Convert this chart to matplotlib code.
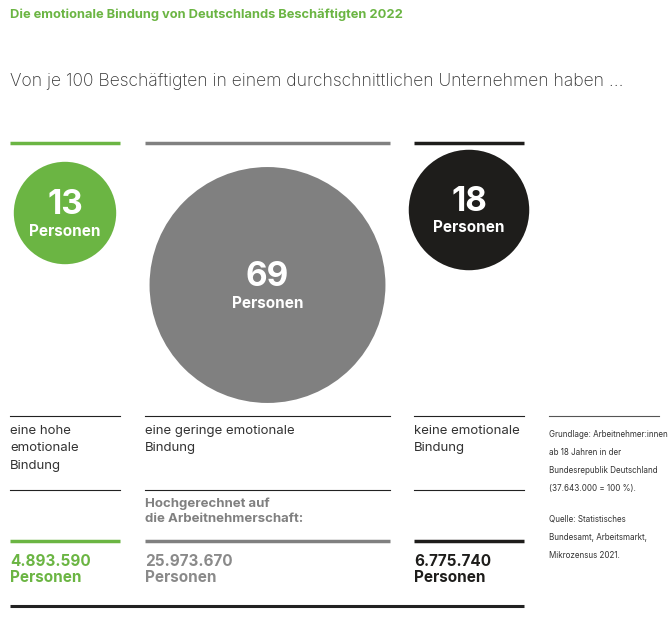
import matplotlib
matplotlib.use("Agg")
import matplotlib.pyplot as plt
from matplotlib.patches import Circle

counts = [13, 69, 18]
labels = ["eine hohe\nemotionale\nBindung", "eine geringe emotionale\nBindung", "keine emotionale\nBindung"]
totals = ["4.893.590", "25.973.670", "6.775.740"]
colors = ["#6bb543", "#808080", "#1e1d1b"]
total_colors = ["#6bb543", "#8a8a8a", "#1e1d1b"]

cols = [(10, 120), (145, 390), (414, 524)]
centers_y = [213, 285, 210]

fig = plt.figure(figsize=(6.69, 6.19), dpi=100)
ax = fig.add_axes([0, 0, 1, 1])
ax.set_xlim(0, 669); ax.set_ylim(619, 0); ax.axis("off")
F = "Inter"

ax.text(10, 15, "Die emotionale Bindung von Deutschlands Beschäftigten 2022", color="#6bb543",
        fontsize=9.3, fontweight="bold", family=F, va="center")
ax.text(10, 81, "Von je 100 Beschäftigten in einem durchschnittlichen Unternehmen haben …",
        color="#333333", fontsize=12.6, family=F, va="center", fontweight="light")

for i, (x0, x1) in enumerate(cols):
    cx = (x0 + x1) / 2
    r = 14.2 * counts[i] ** 0.5
    ax.plot([x0, x1], [143, 143], color=colors[i], lw=2.5, solid_capstyle="butt")
    ax.add_patch(Circle((cx, centers_y[i]), r, color=colors[i], lw=0))
    ax.text(cx, centers_y[i] - 8, str(counts[i]), color="white", fontsize=24, fontweight="bold",
            family=F, ha="center", va="center")
    ax.text(cx, centers_y[i] + 18, "Personen", color="white", fontsize=11, fontweight="bold",
            family=F, ha="center", va="center")
    ax.plot([x0, x1], [416, 416], color="#222222", lw=0.8)
    ax.text(x0, 425, labels[i], color="#333333", fontsize=9.5, family=F, va="top", linespacing=1.6)
    ax.plot([x0, x1], [490, 490], color="#222222", lw=0.8)
    ax.plot([x0, x1], [541, 541], color=colors[i], lw=2.5, solid_capstyle="butt")
    ax.text(x0, 554, totals[i] + "\nPersonen", color=total_colors[i], fontsize=11, fontweight="bold",
            family=F, va="top", linespacing=1.1)

ax.text(145, 498, "Hochgerechnet auf\ndie Arbeitnehmerschaft:", color="#808080", fontsize=9.5,
        fontweight="bold", family=F, va="top", linespacing=1.3)
ax.plot([10, 524], [606, 606], color="#222222", lw=2.2, solid_capstyle="butt")

ax.plot([549, 659], [416, 416], color="#555555", lw=0.8)
ax.text(549, 430, "Grundlage: Arbeitnehmer:innen\nab 18 Jahren in der\nBundesrepublik Deutschland\n(37.643.000 = 100 %).",
        color="#333333", fontsize=5.8, family=F, va="top", linespacing=2.3)
ax.text(549, 515, "Quelle: Statistisches\nBundesamt, Arbeitsmarkt,\nMikrozensus 2021.",
        color="#333333", fontsize=5.8, family=F, va="top", linespacing=2.3)

fig.savefig("out.png", dpi=100, facecolor="white")
